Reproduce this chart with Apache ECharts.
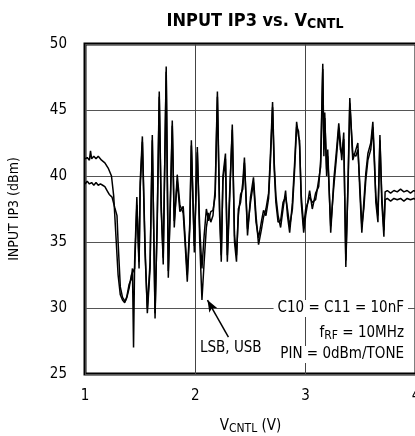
<!DOCTYPE html>
<html>
<head>
<meta charset="utf-8">
<script src="https://cdn.jsdelivr.net/npm/echarts@6/dist/echarts.min.js"></script>
<style>
  html, body { margin: 0; padding: 0; background: #fff; }
  #chart { width: 415px; height: 436px; }
</style>
</head>
<body>
<div id="chart"></div>
<script>
// Control voltage sweep (V) and measured input IP3 (dBm) for the two sidebands
const lsbV = [
  1.00, 1.02, 1.04, 1.05, 1.06, 1.08, 1.10, 1.12, 1.15, 1.18, 1.21, 1.24, 1.26, 1.28, 1.30,
  1.32, 1.34, 1.36, 1.38, 1.40, 1.42, 1.43, 1.44, 1.45, 1.47, 1.49, 1.50, 1.52, 1.545, 1.565,
  1.59, 1.61, 1.635, 1.655, 1.673, 1.69, 1.709, 1.736, 1.755, 1.773, 1.791, 1.809, 1.836, 1.86,
  1.89, 1.91, 1.927, 1.95, 1.964, 1.991, 2.018, 2.04, 2.06, 2.08, 2.10, 2.12, 2.14, 2.16, 2.18,
  2.20, 2.22, 2.235, 2.25, 2.273, 2.29, 2.31, 2.335, 2.355, 2.373, 2.39, 2.41, 2.43, 2.445,
  2.473, 2.50, 2.527, 2.55, 2.573, 2.60, 2.618, 2.64, 2.664, 2.68, 2.70, 2.715, 2.73, 2.75,
  2.773, 2.795, 2.818, 2.835, 2.855, 2.88, 2.90, 2.918, 2.935, 2.945, 2.96, 2.982, 3.00, 3.036,
  3.06, 3.09, 3.118, 3.136, 3.155, 3.165, 3.173, 3.19, 3.20, 3.227, 3.255, 3.28, 3.30, 3.315,
  3.327, 3.345, 3.364, 3.385, 3.40, 3.427, 3.455, 3.473, 3.49, 3.509, 3.527, 3.545, 3.564,
  3.59, 3.609, 3.625, 3.636, 3.655, 3.673, 3.69, 3.709, 3.72, 3.74, 3.77, 3.80, 3.83, 3.86,
  3.89, 3.92, 3.95, 3.98, 4.00
];
const lsbIP3 = [
  41.3, 41.4, 41.2, 41.9, 41.3, 41.5, 41.3, 41.5, 41.2, 41.0, 40.6, 40.0, 38.5, 35.5, 32.5,
  31.0, 30.6, 30.4, 30.9, 31.8, 32.2, 33.0, 27.0, 33.5, 38.4, 33.0, 39.5, 43.0, 34.5, 29.6,
  33.0, 43.1, 29.2, 37.0, 46.4, 38.0, 33.3, 48.3, 32.3, 38.0, 44.2, 36.1, 40.1, 37.8,
  37.2, 34.5, 32.0, 36.0, 42.7, 34.2, 42.2, 35.0, 30.6, 33.5, 36.1, 37.2, 36.5, 37.0, 39.0,
  46.4, 37.5, 33.5, 40.0, 41.7, 33.5, 38.0, 43.9, 35.0, 33.5, 37.5, 38.0, 39.5, 41.4,
  35.5, 38.4, 39.9, 37.0, 34.8, 36.0, 36.9, 37.5, 38.7, 41.5, 45.6, 41.0, 38.5, 37.0,
  36.1, 37.5, 38.9, 37.0, 35.7, 38.0, 41.0, 44.1, 43.0, 42.7, 38.0, 35.7, 37.0, 38.9,
  37.5, 38.7, 39.2, 41.2, 48.5, 42.0, 44.8, 40.0, 42.0, 35.7, 39.7, 42.0, 44.0, 42.5,
  41.2, 43.3, 33.1, 40.0, 45.9, 41.2, 42.0, 42.5, 39.0, 35.7, 38.0, 40.2, 41.7,
  42.5, 44.1, 41.0, 38.0, 36.5, 43.1, 38.0, 35.4, 38.8, 38.9, 38.7, 38.9, 38.8, 39.0,
  38.8, 38.9, 38.7, 38.9, 38.8
];
const usbV = [
  1.00, 1.02, 1.04, 1.06, 1.08, 1.10, 1.12, 1.14, 1.16, 1.18, 1.20, 1.22, 1.245, 1.27, 1.29,
  1.30, 1.32, 1.34, 1.364, 1.38, 1.40, 1.42, 1.45, 1.47, 1.49, 1.50, 1.52, 1.545, 1.565,
  1.59, 1.61, 1.635, 1.655, 1.673, 1.69, 1.709, 1.736, 1.755, 1.773, 1.791, 1.809, 1.836, 1.86,
  1.89, 1.91, 1.927, 1.95, 1.964, 1.991, 2.018, 2.04, 2.06, 2.08, 2.10, 2.12, 2.14, 2.16, 2.18,
  2.20, 2.22, 2.235, 2.25, 2.273, 2.29, 2.31, 2.335, 2.355, 2.373, 2.39, 2.41, 2.43, 2.445,
  2.473, 2.50, 2.527, 2.55, 2.573, 2.60, 2.618, 2.64, 2.664, 2.68, 2.70, 2.715, 2.73, 2.75,
  2.773, 2.795, 2.818, 2.835, 2.855, 2.88, 2.90, 2.918, 2.935, 2.945, 2.96, 2.982, 3.00, 3.036,
  3.06, 3.09, 3.118, 3.136, 3.155, 3.165, 3.173, 3.19, 3.20, 3.227, 3.255, 3.28, 3.30, 3.315,
  3.327, 3.345, 3.364, 3.385, 3.40, 3.427, 3.455, 3.473, 3.49, 3.509, 3.527, 3.545, 3.564,
  3.59, 3.609, 3.625, 3.636, 3.655, 3.673, 3.69, 3.709, 3.72, 3.74, 3.77, 3.80, 3.83, 3.86,
  3.89, 3.92, 3.95, 3.98, 4.00
];
const usbIP3 = [
  39.4, 39.6, 39.4, 39.5, 39.3, 39.5, 39.3, 39.4, 39.3, 39.2, 38.9, 38.6, 38.4, 37.6, 37.0,
  35.0, 31.6, 30.8, 30.5, 30.8, 31.5, 32.5, 33.0, 37.8, 33.5, 39.0, 42.6, 34.0, 30.0,
  33.5, 42.7, 29.6, 36.5, 46.0, 37.5, 33.8, 47.9, 32.8, 37.5, 43.8, 36.6, 39.6, 37.3,
  37.7, 35.0, 32.5, 36.5, 42.3, 34.7, 41.8, 36.0, 33.0, 35.5, 37.5, 36.6, 37.3, 37.4, 38.5,
  46.0, 37.0, 34.0, 39.6, 41.3, 34.0, 38.5, 43.5, 35.5, 34.0, 37.0, 38.6, 39.0, 41.0,
  36.0, 38.0, 39.5, 36.5, 35.3, 36.6, 37.4, 37.0, 38.3, 41.0, 45.2, 40.5, 38.0, 36.5,
  36.6, 38.0, 38.4, 37.5, 36.2, 37.5, 40.5, 43.7, 43.4, 42.2, 38.5, 36.2, 37.5, 38.4,
  38.0, 38.2, 39.7, 40.7, 48.1, 41.5, 44.4, 40.5, 41.5, 36.2, 39.2, 41.5, 43.6, 42.0,
  41.7, 42.8, 33.6, 39.5, 45.5, 41.7, 41.5, 42.0, 39.5, 36.2, 37.5, 39.7, 41.2,
  42.0, 43.7, 40.5, 38.5, 37.0, 42.7, 38.5, 35.9, 38.2, 38.3, 38.1, 38.3, 38.2, 38.3,
  38.1, 38.3, 38.2, 38.3, 38.2
];

// Axis ticks and annotation arrow end points
const vTicks = [1, 2, 3, 4];
const ip3Ticks = [25, 30, 35, 40, 45, 50];
const arrowFrom = [2.30, 27.8];
const arrowTo = [2.11, 30.6];

const FONT = '"Liberation Sans Narrow", "DejaVu Sans Condensed", "Liberation Sans", sans-serif';

const chart = echarts.init(document.getElementById('chart'), null, { renderer: 'canvas' });

const pairs = (xs, ys) => xs.map((x, i) => [x, ys[i]]);

chart.setOption({
  animation: false,
  backgroundColor: '#fff',
  title: {
    text: '{m|INPUT IP3 vs. V}{s|CNTL}',
    left: 250,
    top: 6,
    textAlign: 'center',
    textStyle: {
      rich: {
        m: { fontFamily: FONT, fontWeight: 'bold', fontSize: 18, color: '#000' },
        s: { fontFamily: FONT, fontWeight: 'bold', fontSize: 14, color: '#000', padding: [6, 0, 0, 0] }
      }
    }
  },
  grid: {
    left: 85, top: 44, right: -1, bottom: 62,
    outerBoundsMode: 'none', containLabel: false,
    show: true, borderColor: '#000', borderWidth: 3, backgroundColor: 'transparent'
  },
  xAxis: {
    type: 'value', min: vTicks[0], max: vTicks[vTicks.length - 1], interval: 1,
    axisLine: { show: false }, axisTick: { show: false },
    axisLabel: { fontFamily: FONT, fontSize: 15, color: '#000', margin: 15 },
    splitLine: { show: true, lineStyle: { color: '#444', width: 1 } },
    name: '{m|V}{s|CNTL}{m| (V)}',
    nameLocation: 'middle', nameGap: 44,
    nameTextStyle: {
      rich: {
        m: { fontFamily: FONT, fontSize: 15, color: '#000' },
        s: { fontFamily: FONT, fontSize: 12, color: '#000', padding: [5, 0, 0, 0] }
      }
    }
  },
  yAxis: {
    type: 'value', min: ip3Ticks[0], max: ip3Ticks[ip3Ticks.length - 1], interval: 5,
    axisLine: { show: false }, axisTick: { show: false },
    axisLabel: { fontFamily: FONT, fontSize: 15, color: '#000', margin: 18 },
    splitLine: { show: true, lineStyle: { color: '#555', width: 1 } },
    name: 'INPUT IP3 (dBm)', nameLocation: 'middle', nameGap: 64,
    nameTextStyle: { fontFamily: FONT, fontSize: 14, color: '#000' }
  },
  series: [
    {
      name: 'LSB', type: 'line', data: pairs(lsbV, lsbIP3),
      showSymbol: false, symbol: 'none', z: 3,
      lineStyle: { color: '#000', width: 1.5 },
      markLine: {
        silent: true, symbol: ['none', 'arrow'], symbolSize: [7, 12],
        lineStyle: { color: '#000', width: 1.5, type: 'solid' },
        label: { show: false },
        data: [[{ coord: arrowFrom }, { coord: arrowTo }]]
      }
    },
    {
      name: 'USB', type: 'line', data: pairs(usbV, usbIP3),
      showSymbol: false, symbol: 'none', z: 3,
      lineStyle: { color: '#000', width: 1.5 }
    }
  ],
  graphic: [
    {
      type: 'text', left: 200, top: 341, z: 10,
      style: { text: 'LSB, USB', font: '15px ' + FONT, fill: '#000', backgroundColor: '#fff' }
    },
    {
      type: 'text', right: 7, top: 300, z: 10,
      style: {
        text: 'C10 = C11 = 10nF', font: '15px ' + FONT, fill: '#000',
        backgroundColor: '#fff', padding: [1, 4, 1, 4]
      }
    },
    {
      type: 'text', right: 7, top: 324, z: 10,
      style: {
        text: '{m|f}{s|RF}{m| = 10MHz}', fill: '#000', backgroundColor: '#fff', padding: [1, 4, 1, 4],
        rich: {
          m: { fontFamily: FONT, fontSize: 15, fill: '#000' },
          s: { fontFamily: FONT, fontSize: 12, fill: '#000', padding: [5, 0, 0, 0] }
        }
      }
    },
    {
      type: 'text', right: 7, top: 346, z: 10,
      style: {
        text: 'PIN = 0dBm/TONE', font: '15px ' + FONT, fill: '#000',
        backgroundColor: '#fff', padding: [1, 4, 1, 4]
      }
    }
  ]
});
</script>
</body>
</html>
